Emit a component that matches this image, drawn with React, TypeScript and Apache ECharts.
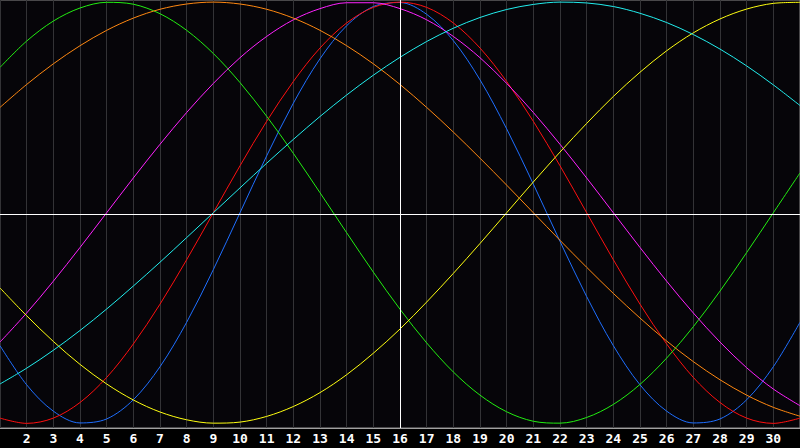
import { useEffect, useRef } from 'react';
import * as echarts from 'echarts';

// days shown on the x axis (day 16 = today, white line)
const days = [
    1, 2, 3, 4, 5, 6, 7, 8, 9, 10, 11, 12, 13, 14, 15, 16,
    17, 18, 19, 20, 21, 22, 23, 24, 25, 26, 27, 28, 29, 30, 31
];
const today = 16;

// cycle values, -100..100
const physical = [
    -63.1, -81.7, -94.2, -99.8, -97.9, -88.8, -73.1, -52.0, -27.0, 0, 27.0, 52.0, 73.1, 88.8, 97.9, 99.8,
    94.2, 81.7, 63.1, 39.8, 13.6, -13.6, -39.8, -63.1, -81.7, -94.2, -99.8, -97.9, -88.8, -73.1, -52.0
];
const emotional = [
    -97.5, -100, -97.5, -90.1, -78.2, -62.3, -43.4, -22.3, 0, 22.3, 43.4, 62.3, 78.2, 90.1, 97.5, 100,
    97.5, 90.1, 78.2, 62.3, 43.4, 22.3, 0, -22.3, -43.4, -62.3, -78.2, -90.1, -97.5, -100, -97.5
];
const intellectual = [
    69.0, 81.5, 91.0, 97.2, 99.9, 99.0, 94.5, 86.6, 75.6, 61.8, 45.8, 28.2, 9.5, -9.5, -28.2, -45.8,
    -61.8, -75.6, -86.6, -94.5, -99.0, -99.9, -97.2, -91.0, -81.5, -69.0, -54.1, -37.2, -18.9, 0, 18.9
];
const intuitive = [
    -61.4, -47.6, -32.5, -16.5, 0, 16.5, 32.5, 47.6, 61.4, 73.6, 83.7, 91.6, 96.9, 99.7, 99.7, 96.9,
    91.6, 83.7, 73.6, 61.4, 47.6, 32.5, 16.5, 0, -16.5, -32.5, -47.6, -61.4, -73.6, -83.7, -91.6
];
const aesthetic = [
    -35.7, -48.9, -61.1, -72.0, -81.3, -88.9, -94.6, -98.3, -99.9, -99.4, -96.7, -92.0, -85.4, -76.9, -66.7, -55.2,
    -42.4, -28.8, -14.6, 0, 14.6, 28.8, 42.4, 55.2, 66.7, 76.9, 85.4, 92.0, 96.7, 99.4, 99.9
];
const awareness = [
    50.0, 60.9, 70.7, 79.3, 86.6, 92.4, 96.6, 99.1, 100, 99.1, 96.6, 92.4, 86.6, 79.3, 70.7, 60.9,
    50.0, 38.3, 25.9, 13.1, 0, -13.1, -25.9, -38.3, -50.0, -60.9, -70.7, -79.3, -86.6, -92.4, -96.6
];
const spiritual = [
    -81.3, -73.8, -65.3, -55.9, -45.7, -34.8, -23.5, -11.8, 0, 11.8, 23.5, 34.8, 45.7, 55.9, 65.3, 73.8,
    81.3, 87.6, 92.7, 96.5, 98.9, 100, 99.6, 97.9, 94.7, 90.3, 84.6, 77.7, 69.7, 60.7, 50.9
];

const cycles = [
    { name: 'Physical', values: physical, color: '#1f6fff' },
    { name: 'Emotional', values: emotional, color: '#ff1010' },
    { name: 'Intellectual', values: intellectual, color: '#22ee11' },
    { name: 'Intuitive', values: intuitive, color: '#ff22ff' },
    { name: 'Aesthetic', values: aesthetic, color: '#ffff11' },
    { name: 'Awareness', values: awareness, color: '#ff8811' },
    { name: 'Spiritual', values: spiritual, color: '#22eeee' }
];

export default function App() {
    const chartRef = useRef<HTMLDivElement>(null);

    useEffect(() => {
        if (!chartRef.current) return;
        const chart = echarts.init(chartRef.current, null, { renderer: 'svg' });

        // smooth ~1/3 keeps the curve close to a catmull-rom spline, no wobble
        const series: any[] = cycles.map((c) => ({
            name: c.name,
            type: 'line',
            data: days.map((d, i) => [d, c.values[i]]),
            smooth: 0.33,
            symbol: 'none',
            lineStyle: { color: c.color, width: 1 },
            itemStyle: { color: c.color },
            z: 3
        }));

        // today + zero lines
        series[0].markLine = {
            silent: true,
            symbol: 'none',
            label: { show: false },
            lineStyle: { color: '#ffffff', width: 1, type: 'solid' },
            data: [{ xAxis: today }, { yAxis: -0.6 }]
        };

        chart.setOption({
            animation: false,
            backgroundColor: '#000000',
            grid: {
                left: 0,
                right: 0,
                top: 0,
                bottom: 20,
                show: true,
                backgroundColor: '#060509',
                borderColor: '#8c8c8c',
                borderWidth: 1
            },
            xAxis: {
                type: 'value',
                min: 1,
                max: 31,
                interval: 1,
                axisLine: { show: true, onZero: false, lineStyle: { color: '#a0a0a0', width: 1 } },
                axisTick: { show: false },
                axisLabel: {
                    color: '#ffffff',
                    fontFamily: 'DejaVu Sans Mono',
                    fontWeight: 'bold',
                    fontSize: 13,
                    margin: 4,
                    showMinLabel: false,
                    showMaxLabel: false
                },
                splitLine: { show: true, lineStyle: { color: '#333336', width: 1 } }
            },
            yAxis: {
                type: 'value',
                min: -102.2,
                max: 101,
                show: false,
                splitLine: { show: false }
            },
            series
        });

        return () => {
            chart.dispose();
        };
    }, []);

    return (
        <div
            ref={chartRef}
            style={{ position: 'absolute', left: 0, top: 0, width: 800, height: 448 }}
        />
    );
}
